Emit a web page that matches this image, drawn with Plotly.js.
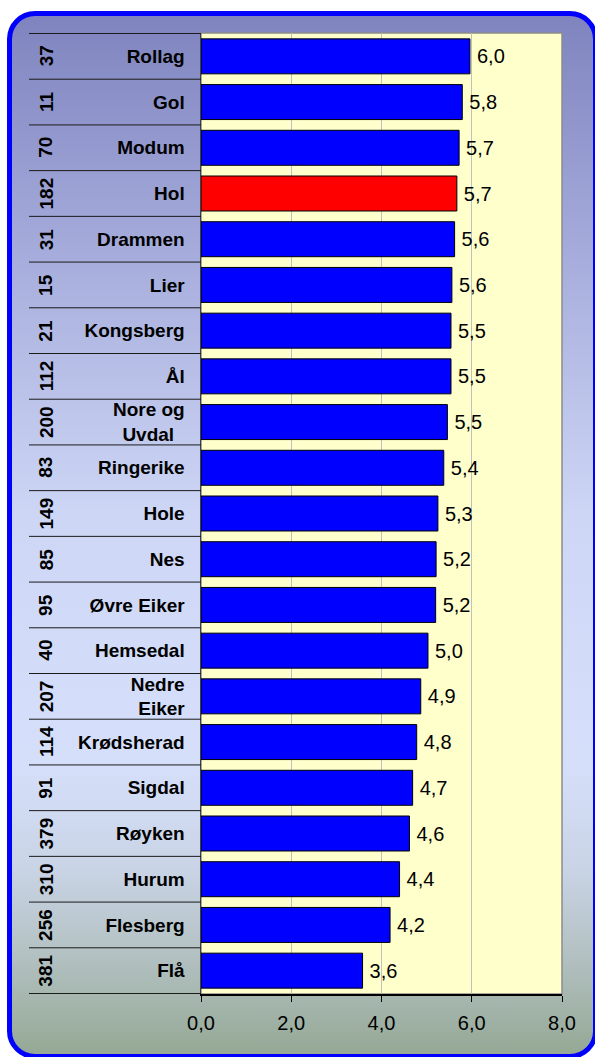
<!DOCTYPE html>
<html>
<head>
<meta charset="utf-8">
<script src="https://cdn.plot.ly/plotly-3.0.1.min.js"></script>
<style>
  html, body { margin: 0; padding: 0; width: 595px; height: 1057px; overflow: hidden; background: #ffffff; }
  #frame {
    position: absolute; left: 7px; top: 11px; width: 591px; height: 1048px;
    box-sizing: border-box; border: 5px solid #0000ff; border-radius: 28px;
    background: linear-gradient(to bottom, #7f84bf 0%, #a9b0de 25%, #cdd6f5 48%, #d6dffa 72%, #c9d4e6 82%, #b4c2c4 90%, #95a995 100%);
  }
  #chart { position: absolute; left: 0; top: 0; width: 595px; height: 1057px; }
</style>
</head>
<body>
<div id="frame"></div>
<div id="chart"></div>
<script>
const municipalities = ["Rollag", "Gol", "Modum", "Hol", "Drammen", "Lier", "Kongsberg", "Ål",
  "Nore og Uvdal", "Ringerike", "Hole", "Nes", "Øvre Eiker", "Hemsedal", "Nedre Eiker",
  "Krødsherad", "Sigdal", "Røyken", "Hurum", "Flesberg", "Flå"];
const tickLabels = ["Rollag", "Gol", "Modum", "Hol", "Drammen", "Lier", "Kongsberg", "Ål",
  "Nore og<br>Uvdal\u00a0\u00a0", "Ringerike", "Hole", "Nes", "Øvre Eiker", "Hemsedal", "Nedre<br>Eiker",
  "Krødsherad", "Sigdal", "Røyken", "Hurum", "Flesberg", "Flå"];
const ranks = ["37", "11", "70", "182", "31", "15", "21", "112", "200", "83", "149", "85", "95",
  "40", "207", "114", "91", "379", "310", "256", "381"];
const values = [5.96, 5.79, 5.72, 5.67, 5.62, 5.56, 5.54, 5.54, 5.46, 5.38, 5.25, 5.21, 5.2,
  5.03, 4.87, 4.78, 4.69, 4.62, 4.4, 4.19, 3.58];
const highlighted = "Hol";
const xTicks = [0, 2, 4, 6, 8];

const FONT = "'Liberation Sans', Arial, Helvetica, sans-serif";
const barColors = municipalities.map(m => m === highlighted ? "#ff0000" : "#0000ff");

const plotLeft = 201, plotRight = 562, plotTop = 33, plotBottom = 994;
const plotW = plotRight - plotLeft;

const trace = {
  type: "bar",
  orientation: "h",
  y: municipalities,
  x: values,
  marker: { color: barColors, line: { color: "#000000", width: 1 } },
  texttemplate: "\u2009%{x:.1f}",
  textposition: "outside",
  cliponaxis: false,
  textfont: { family: FONT, size: 20, color: "#000000" },
  hoverinfo: "none"
};

const annotations = municipalities.map((m, i) => ({
  xref: "paper", yref: "y",
  x: (46 - plotLeft) / plotW, y: m,
  text: "<b>" + ranks[i] + "</b>",
  textangle: -90,
  showarrow: false,
  xanchor: "center", yanchor: "middle",
  font: { family: FONT, size: 19, color: "#000000" }
}));

const shapes = [];
for (let i = 0; i <= municipalities.length; i++) {
  shapes.push({
    type: "line", xref: "paper", yref: "y",
    x0: (29 - plotLeft) / plotW, x1: 0, y0: i - 0.5, y1: i - 0.5,
    line: { color: "#1a1a1a", width: 1 }
  });
}
shapes.push({
  type: "rect", xref: "paper", yref: "paper", x0: 0, x1: 1, y0: 0, y1: 1,
  line: { color: "#8c8c8c", width: 1.5 }, layer: "below"
});

const layout = {
  width: 595, height: 1057,
  margin: { l: plotLeft, r: 595 - plotRight, t: plotTop, b: 1057 - plotBottom, pad: 0 },
  paper_bgcolor: "rgba(0,0,0,0)",
  plot_bgcolor: "#ffffcc",
  separators: ", ",
  showlegend: false,
  bargap: 0.235,
  font: { family: FONT, color: "#000000" },
  xaxis: {
    range: [0, 8], tickvals: xTicks, tickformat: ".1f",
    ticks: "outside", ticklen: 6, tickcolor: "#000000", tickwidth: 1,
    showline: true, linecolor: "#000000", linewidth: 1.5,
    showgrid: true, gridcolor: "#c0c0c0", gridwidth: 1, zeroline: false,
    ticklabelstandoff: 4,
    tickfont: { size: 20, family: FONT, color: "#000000" },
    fixedrange: true
  },
  yaxis: {
    type: "category", autorange: "reversed",
    categoryorder: "array", categoryarray: municipalities,
    tickmode: "array", tickvals: municipalities, ticktext: tickLabels,
    ticks: "", showline: true, linecolor: "#404040", linewidth: 1.5,
    showgrid: false, zeroline: false,
    ticklabelstandoff: 11,
    tickfont: { size: 19, family: FONT, color: "#000000", weight: "bold" },
    fixedrange: true
  },
  annotations: annotations,
  shapes: shapes
};

Plotly.newPlot("chart", [trace], layout, { displayModeBar: false, staticPlot: true });
</script>
</body>
</html>
